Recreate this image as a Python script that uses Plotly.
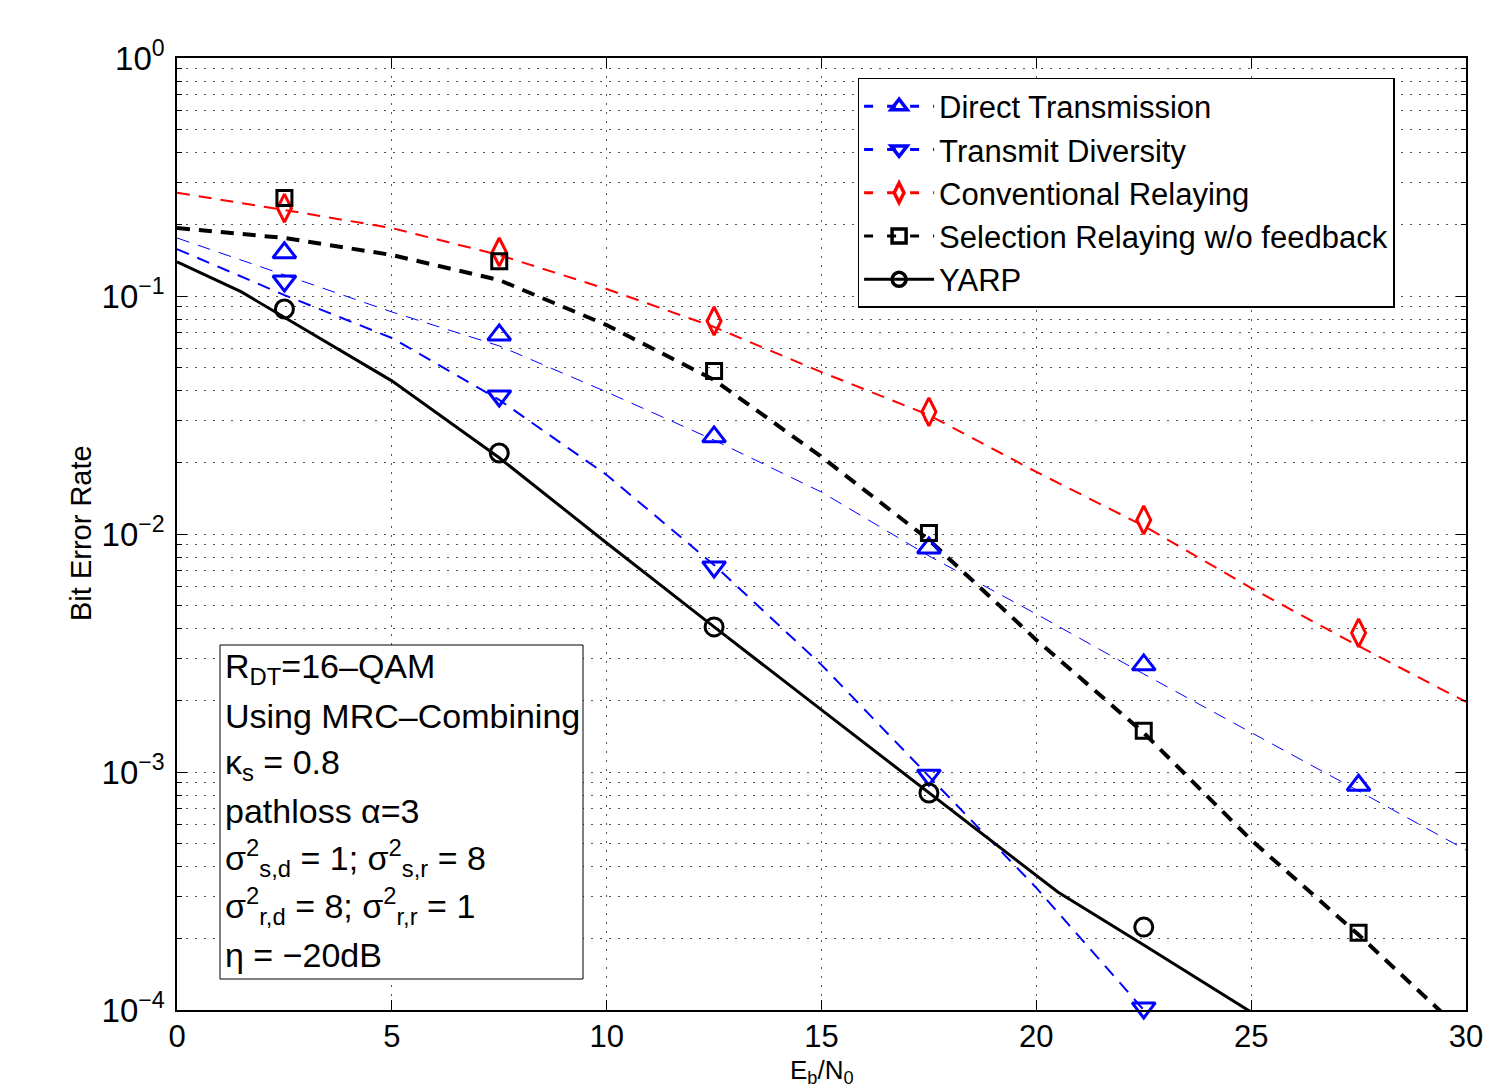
import plotly.graph_objects as go

# ---------------- data ----------------
x_sim = [2.5, 7.5, 12.5, 17.5, 22.5, 27.5]
dt_sim = [0.152, 0.0686, 0.0256, 0.00873, 0.00282, 0.00088]
td_sim = [0.1156, 0.038, 0.00727, 0.00097, 0.000102]
cr_sim = [0.234, 0.153, 0.0785, 0.0326, 0.01145, 0.00384]
sr_sim = [0.258, 0.140, 0.0484, 0.0101, 0.00149, 0.000211]
yarp_sim = [0.0882, 0.0219, 0.00407, 0.000816, 0.000223]

x_th = [0, 2.5, 5, 7.5, 10, 12.5, 15, 17.5, 20, 22.5, 25, 27.5, 30]
dt_th = [0.1753, 0.1225, 0.0857, 0.0617, 0.0395, 0.0248, 0.0150, 0.00809,
         0.00461, 0.00258, 0.00147, 0.000832, 0.000470]
td_th = [0.1575, 0.1009, 0.0666, 0.0366, 0.0177, 0.00741, 0.00282, 0.000962,
         0.000326, 0.0001, 0.0000279]
cr_th = [0.2716, 0.2298, 0.1930, 0.1487, 0.1070, 0.0741, 0.0479, 0.0316,
         0.01823, 0.01081, 0.00593, 0.00338, 0.00197]
sr_th = [0.1931, 0.1753, 0.1487, 0.1167, 0.0755, 0.0444, 0.0211, 0.00944,
         0.00359, 0.00146, 0.000518, 0.000207, 0.0000785]
x_yarp = [0, 1.5, 5, 7.5, 10, 12.5, 15, 17.5, 20.5, 22.5, 25]
yarp_th = [0.139, 0.104, 0.0440, 0.0209, 0.00917, 0.00407, 0.001823, 0.000816,
           0.000313, 0.0001875, 0.000098]

names = ["Direct Transmission", "Transmit Diversity", "Conventional Relaying",
         "Selection Relaying w/o feedback", "YARP"]
x_title = "E<sub>b</sub>/N<sub>0</sub>"
y_title = "Bit Error Rate"
x_ticks = [0, 5, 10, 15, 20, 25, 30]
y_ticks = [1e-4, 1e-3, 1e-2, 1e-1, 1]
y_ticktext = ["10<sup>−4</sup>", "10<sup>−3</sup>", "10<sup>−2</sup>",
              "10<sup>−1</sup>", "10<sup>0</sup>"]
box_lines = [
    "R<sub>DT</sub>=16–QAM",
    "Using MRC–Combining",
    "κ<sub>s</sub> = 0.8",
    "pathloss α=3",
    "σ<sup>2</sup><sub>s,d</sub> = 1; σ<sup>2</sup><sub>s,r</sub> = 8",
    "σ<sup>2</sup><sub>r,d</sub> = 8; σ<sup>2</sup><sub>r,r</sub> = 1",
    "η = −20dB",
]

BLUE = "#0000FF"
RED = "#FF0000"
BLACK = "#000000"
DASH = "13px,9px"

series = [
    # name, x_line, y_line, y_sim, color, line width, dash, symbol, size
    (names[0], x_th, dt_th, dt_sim, BLUE, 1, DASH, "triangle-up-open", 20),
    (names[1], x_th[:len(td_th)], td_th, td_sim, BLUE, 2, DASH, "triangle-down-open", 20),
    (names[2], x_th, cr_th, cr_sim, RED, 2, DASH, "diamond-tall-open", 20),
    (names[3], x_th, sr_th, sr_sim, BLACK, 4, DASH, "square-open", 15),
    (names[4], x_yarp, yarp_th, yarp_sim, BLACK, 3, "solid", "circle-open", 18),
]

fig = go.Figure()
for name, xl, yl, ys, col, lw, dash, sym, msz in series:
    fig.add_trace(go.Scatter(x=xl, y=yl, mode="lines", showlegend=False,
                             line=dict(color=col, width=lw, dash=dash),
                             hoverinfo="skip"))
for name, xl, yl, ys, col, lw, dash, sym, msz in series:
    fig.add_trace(go.Scatter(x=x_sim[:len(ys)], y=ys, mode="markers", showlegend=False,
                             cliponaxis=False,
                             marker=dict(symbol=sym, size=msz, color=col,
                                         line=dict(color=col, width=3))))
# legend entries
for name, xl, yl, ys, col, lw, dash, sym, msz in series:
    fig.add_trace(go.Scatter(x=[None], y=[None], mode="lines+markers", name=name,
                             line=dict(color=col, width=3,
                                       dash="solid" if dash == "solid" else "9px,14px"),
                             marker=dict(symbol=sym, size=14, color=col,
                                         line=dict(color=col, width=3.5))))

FONT = "Liberation Sans, Arial, Helvetica, sans-serif"
GRID = dict(showgrid=True, gridcolor="#555555", gridwidth=1, griddash="1.5px,7.5px")

fig.update_layout(
    width=1503, height=1089,
    margin=dict(l=177, r=37, t=58, b=79, autoexpand=False),
    paper_bgcolor="white", plot_bgcolor="white",
    font=dict(family=FONT, size=32, color="black"),
    legend=dict(x=0.528, y=0.979, xanchor="left", yanchor="top",
                bgcolor="white", bordercolor="black", borderwidth=1.5,
                font=dict(size=31), itemwidth=70, tracegroupgap=0),
    xaxis=dict(range=[0, 30], tickvals=x_ticks, ticks="inside", ticklen=10,
               tickcolor="black", showline=True, linecolor="black", linewidth=1.5,
               mirror="ticks", zeroline=False, tickfont=dict(size=31),
               ticklabelstandoff=-2, automargin=False,
               **GRID),
    yaxis=dict(type="log", range=[-4, 0], tickvals=y_ticks, ticktext=y_ticktext,
               ticks="inside", ticklen=10, tickcolor="black", showline=True,
               linecolor="black", linewidth=1.5, mirror="ticks", zeroline=False,
               tickfont=dict(size=33), ticklabelstandoff=4, automargin=False,
               minor=dict(tickvals=[m * 10.0 ** e for e in range(-4, 0) for m in range(2, 10)],
                          ticks="inside", ticklen=5, tickcolor="black",
                          **GRID),
               **GRID),
)

# axis titles
fig.add_annotation(xref="paper", yref="paper", x=(822 - 177) / 1289,
                   y=(1010 - 1071) / 952, xanchor="center", yanchor="middle",
                   text=x_title, showarrow=False, font=dict(size=26, family=FONT))
fig.add_annotation(xref="paper", yref="paper", x=(81 - 177) / 1289,
                   y=(1010 - 533) / 952, xanchor="center", yanchor="middle",
                   textangle=-90, text=y_title, showarrow=False,
                   font=dict(size=29, family=FONT))

# text box
fig.add_shape(type="rect", xref="paper", yref="paper",
              x0=(220 - 177) / 1289, x1=(583 - 177) / 1289,
              y0=(1010 - 979) / 952, y1=(1010 - 645) / 952,
              line=dict(color="black", width=1), fillcolor="white", layer="above")
line_px = [668, 716, 764, 811, 858, 906, 955]
for txt, py in zip(box_lines, line_px):
    fig.add_annotation(xref="paper", yref="paper", x=(223 - 177) / 1289,
                       y=(1010 - py) / 952, xanchor="left", yanchor="middle",
                       text=txt, showarrow=False, font=dict(size=34, family=FONT))

fig.write_html("out.html", config={"displayModeBar": False},
               post_script="document.body.style.margin='0';")
